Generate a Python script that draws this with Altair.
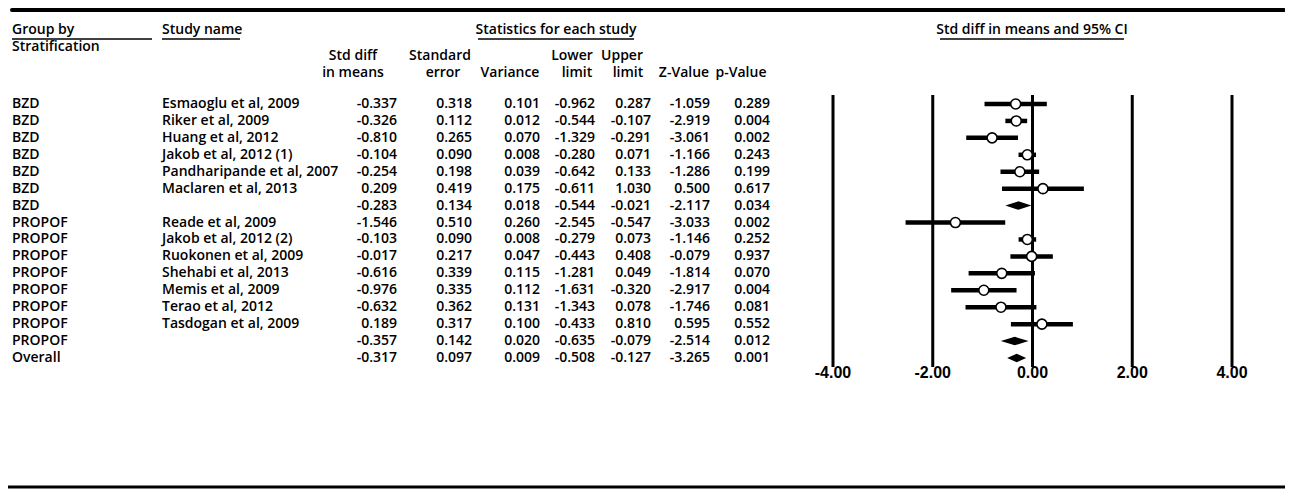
import altair as alt
import pandas as pd

# ---------------- data ----------------
groups = ["BZD", "BZD", "BZD", "BZD", "BZD", "BZD", "BZD",
          "PROPOF", "PROPOF", "PROPOF", "PROPOF", "PROPOF", "PROPOF", "PROPOF", "PROPOF",
          "Overall"]
studies = ["Esmaoglu et al, 2009", "Riker et al, 2009", "Huang et al, 2012",
           "Jakob et al, 2012 (1)", "Pandharipande et al, 2007", "Maclaren et al, 2013", "",
           "Reade et al, 2009", "Jakob et al, 2012 (2)", "Ruokonen et al, 2009",
           "Shehabi et al, 2013", "Memis et al, 2009", "Terao et al, 2012",
           "Tasdogan et al, 2009", "", ""]
is_summary = [False, False, False, False, False, False, True,
              False, False, False, False, False, False, False, True, True]
smd = [-0.337, -0.326, -0.810, -0.104, -0.254, 0.209, -0.283,
       -1.546, -0.103, -0.017, -0.616, -0.976, -0.632, 0.189, -0.357, -0.317]
std_err = [0.318, 0.112, 0.265, 0.090, 0.198, 0.419, 0.134,
           0.510, 0.090, 0.217, 0.339, 0.335, 0.362, 0.317, 0.142, 0.097]
variance = [0.101, 0.012, 0.070, 0.008, 0.039, 0.175, 0.018,
            0.260, 0.008, 0.047, 0.115, 0.112, 0.131, 0.100, 0.020, 0.009]
lower = [-0.962, -0.544, -1.329, -0.280, -0.642, -0.611, -0.544,
         -2.545, -0.279, -0.443, -1.281, -1.631, -1.343, -0.433, -0.635, -0.508]
upper = [0.287, -0.107, -0.291, 0.071, 0.133, 1.030, -0.021,
         -0.547, 0.073, 0.408, 0.049, -0.320, 0.078, 0.810, -0.079, -0.127]
z_value = [-1.059, -2.919, -3.061, -1.166, -1.286, 0.500, -2.117,
           -3.033, -1.146, -0.079, -1.814, -2.917, -1.746, 0.595, -2.514, -3.265]
p_value = [0.289, 0.004, 0.002, 0.243, 0.199, 0.617, 0.034,
           0.002, 0.252, 0.937, 0.070, 0.004, 0.081, 0.552, 0.012, 0.001]
tick_values = [-4, -2, 0, 2, 4]
tick_labels = ["-4.00", "-2.00", "0.00", "2.00", "4.00"]

# ---------------- layout helpers ----------------
W, H = 1277, 481
OX, OY = 8, 8
FONT = "Open Sans"
FS = 14
FW = 600


def px(x):
    return x - OX


def py(y):
    return y - OY


one = pd.DataFrame({"k": [0]})


def label(text, x, y, align="left", size=FS, font=FONT):
    return alt.Chart(one).mark_text(
        text=text, align=align, baseline="middle", fontSize=size, font=font,
        fontWeight=FW, color="black"
    ).encode(x=alt.value(px(x)), y=alt.value(py(y)))


def hline(x1, x2, y, w, cap="butt"):
    return alt.Chart(one).mark_rule(strokeWidth=w, color="black", strokeCap=cap).encode(
        x=alt.value(px(x1)), x2=alt.value(px(x2)), y=alt.value(py(y))
    )


xs = alt.Scale(domain=[-4, 4], range=[px(833), px(1232)], zero=False, nice=False)
ys = alt.Scale(domain=[0, 15], range=[py(104), py(358)], zero=False, nice=False)

n = len(groups)
fmt = lambda v: f"{v:.3f}"
df = pd.DataFrame({
    "row": list(range(n)),
    "group": groups,
    "study": studies,
    "summary": is_summary,
    "smd": smd,
    "lower": lower,
    "upper": upper,
    "c_smd": [fmt(v) for v in smd],
    "c_se": [fmt(v) for v in std_err],
    "c_var": [fmt(v) for v in variance],
    "c_low": [fmt(v) for v in lower],
    "c_up": [fmt(v) for v in upper],
    "c_z": [fmt(v) for v in z_value],
    "c_p": [fmt(v) for v in p_value],
})

layers = []

# frame lines
layers.append(hline(12, 1284, 10, 4, cap="round"))
layers.append(hline(8, 1285, 487, 3))

# header texts
layers += [
    label("Group by", 12, 30),
    label("Study name", 162, 30),
    label("Statistics for each study", 556, 30, align="center"),
    label("Std diff in means and 95% CI", 1032, 30, align="center"),
    hline(12, 152, 39, 1.5),
    hline(162, 240, 39, 1.5),
    hline(478, 634, 39, 1.5),
    hline(940, 1124, 39, 1.5),
    label("Stratification", 12, 47),
    label("Std diff", 353, 56, align="center"),
    label("in means", 353, 73, align="center"),
    label("Standard", 440, 56, align="center"),
    label("error", 443, 73, align="center"),
    label("Variance", 510, 73, align="center"),
    label("Lower", 572, 56, align="center"),
    label("limit", 577, 73, align="center"),
    label("Upper", 622, 56, align="center"),
    label("limit", 628, 73, align="center"),
    label("Z-Value", 684, 73, align="center"),
    label("p-Value", 741, 73, align="center"),
]

yenc = alt.Y("row:Q", scale=ys, axis=None)


def textcol(field, x, align):
    return alt.Chart(df).mark_text(
        align=align, baseline="middle", fontSize=FS, font=FONT, fontWeight=FW, color="black"
    ).encode(x=alt.value(px(x)), y=yenc, text=f"{field}:N")


# table text columns
layers.append(textcol("group", 12, "left"))
layers.append(textcol("study", 162, "left"))
for col, right in [("c_smd", 397), ("c_se", 472), ("c_var", 540), ("c_low", 595),
                   ("c_up", 651), ("c_z", 710), ("c_p", 770)]:
    layers.append(textcol(col, right, "right"))

# forest plot
ticks = pd.DataFrame({"v": tick_values, "lab": tick_labels})
layers.append(alt.Chart(ticks).mark_rule(strokeWidth=3, color="black").encode(
    x=alt.X("v:Q", scale=xs, axis=None), y=alt.value(py(95)), y2=alt.value(py(367))))
layers.append(alt.Chart(ticks).mark_text(baseline="middle", fontSize=16,
                                         font="Liberation Sans Narrow, Liberation Sans",
                                         fontWeight="bold", color="black").encode(
    x=alt.X("v:Q", scale=xs, axis=None), y=alt.value(py(373)), text="lab:N"))

st = df[~df["summary"]]
layers.append(alt.Chart(st).mark_rule(strokeWidth=4.5, color="black").encode(
    x=alt.X("lower:Q", scale=xs, axis=None), x2="upper:Q", y=yenc))
layers.append(alt.Chart(st).mark_point(shape="circle", filled=True, fill="white", stroke="black",
                                       strokeWidth=1.6, size=100, opacity=1).encode(
    x=alt.X("smd:Q", scale=xs, axis=None), y=yenc))

HALF = 0.25
dia_rows = []
for i in range(n):
    if is_summary[i]:
        dia_rows.append({"row": i, "x": lower[i], "y1": i, "y2": i})
        dia_rows.append({"row": i, "x": smd[i], "y1": i - HALF, "y2": i + HALF})
        dia_rows.append({"row": i, "x": upper[i], "y1": i, "y2": i})
dia = pd.DataFrame(dia_rows)
layers.append(alt.Chart(dia).mark_area(orient="vertical", color="black", opacity=1).encode(
    x=alt.X("x:Q", scale=xs, axis=None),
    y=alt.Y("y1:Q", scale=ys, axis=None), y2="y2:Q", detail="row:N"))

chart = alt.layer(*layers).properties(width=W, height=H, padding=0, autosize="none") \
    .configure_view(stroke=None)

chart.save("out.html", embed_options={"renderer": "svg", "actions": False})
